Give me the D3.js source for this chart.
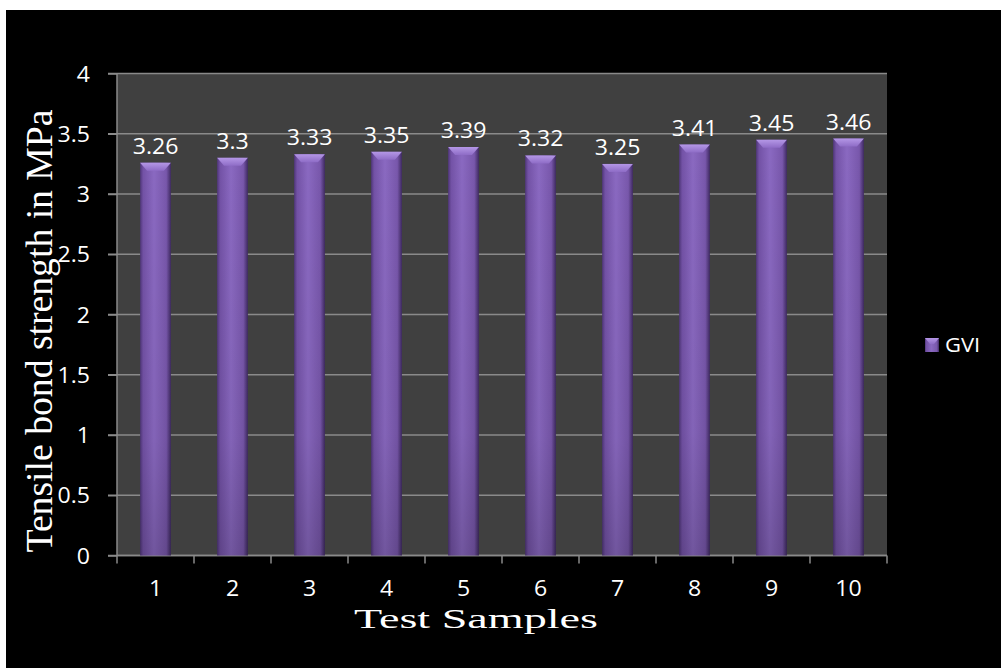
<!DOCTYPE html>
<html>
<head>
<meta charset="utf-8">
<script src="https://cdn.jsdelivr.net/npm/d3@7"></script>
<style>
  html, body { margin: 0; padding: 0; background: #fff; }
  svg { display: block; }
</style>
</head>
<body>
<div id="chart"></div>
<script>
// data
var samples = ["1", "2", "3", "4", "5", "6", "7", "8", "9", "10"];
var gviValues = [3.26, 3.3, 3.33, 3.35, 3.39, 3.32, 3.25, 3.41, 3.45, 3.46];
var yTicks = [0, 0.5, 1, 1.5, 2, 2.5, 3, 3.5, 4];
var seriesName = "GVI";

var W = 1001, H = 668;
var plot = {left: 117, right: 887, top: 73.5, bottom: 555.5};
var sans = "'Open Sans', Lato, sans-serif";
var stretch = 1.1; // the reference text looks a little wide

var svg = d3.select("#chart").append("svg")
  .attr("width", W).attr("height", H);

// black background with thin white border top/left
svg.append("rect").attr("x", 6).attr("y", 10)
  .attr("width", W - 6).attr("height", H - 10).attr("fill", "#000");

var defs = svg.append("defs");
var g1 = defs.append("linearGradient").attr("id", "barGrad")
  .attr("x1", "0%").attr("x2", "100%").attr("y1", "0%").attr("y2", "0%");
[["0%", "#4f3679"], ["10%", "#7352a6"], ["45%", "#8a69c1"], ["85%", "#7857ab"], ["100%", "#3f2a62"]]
  .forEach(function(s){ g1.append("stop").attr("offset", s[0]).attr("stop-color", s[1]); });

var g2 = defs.append("linearGradient").attr("id", "shadeGrad")
  .attr("x1", "0%").attr("x2", "0%").attr("y1", "0%").attr("y2", "100%");
g2.append("stop").attr("offset", "0%").attr("stop-color", "#000").attr("stop-opacity", 0);
g2.append("stop").attr("offset", "70%").attr("stop-color", "#000").attr("stop-opacity", 0.05);
g2.append("stop").attr("offset", "100%").attr("stop-color", "#000").attr("stop-opacity", 0.18);

var g3 = defs.append("linearGradient").attr("id", "capGrad")
  .attr("x1", "0%").attr("x2", "0%").attr("y1", "0%").attr("y2", "100%");
g3.append("stop").attr("offset", "0%").attr("stop-color", "#b497e6");
g3.append("stop").attr("offset", "100%").attr("stop-color", "#8e6cc6");

// scales
var x = d3.scaleBand().domain(samples)
  .range([plot.left, plot.right]).paddingInner(0.6).paddingOuter(0.3);
var xOuter = d3.scaleBand().domain(samples).range([plot.left, plot.right]);
var y = d3.scaleLinear().domain([0, 4]).range([plot.bottom, plot.top]);

var label = function(sel, px, py, anchor, size){
  sel.attr("transform", function(d, i){
      return "translate(" + px(d, i) + "," + py(d, i) + ") scale(" + stretch + ",1)";
    })
    .attr("text-anchor", anchor).attr("fill", "#fff")
    .style("font-family", sans).style("font-size", size + "px");
};

// plot area
svg.append("rect")
  .attr("x", plot.left).attr("y", plot.top)
  .attr("width", plot.right - plot.left).attr("height", plot.bottom - plot.top)
  .attr("fill", "#404040");

// grid lines
svg.append("g").selectAll("line").data(yTicks).join("line")
  .attr("x1", plot.left - 9).attr("x2", plot.right)
  .attr("y1", function(d){ return y(d); }).attr("y2", function(d){ return y(d); })
  .attr("stroke", "#8a8a8a").attr("stroke-width", 1.5);

// y axis
var yAxis = d3.axisLeft(y).tickValues(yTicks).tickSize(9).tickFormat("");
var yg = svg.append("g").attr("transform", "translate(" + plot.left + ",0)").call(yAxis);
yg.select(".domain").attr("stroke", "#8a8a8a").attr("stroke-width", 1.5)
  .attr("d", "M0," + plot.top + "V" + plot.bottom);
yg.selectAll(".tick line").attr("stroke", "#8a8a8a").attr("stroke-width", 1.5);
svg.append("g").selectAll("text").data(yTicks).join("text")
  .call(label, function(){ return 90; }, function(d){ return y(d) + 8; }, "end", 21)
  .text(function(d){ return String(d); });

// x axis with ticks at category boundaries
var boundaries = samples.map(function(s){ return xOuter(s); }).concat([plot.right]);
var xg = svg.append("g");
xg.append("line").attr("x1", plot.left).attr("x2", plot.right)
  .attr("y1", plot.bottom).attr("y2", plot.bottom)
  .attr("stroke", "#8a8a8a").attr("stroke-width", 1.5);
xg.selectAll("line.tk").data(boundaries).join("line").attr("class", "tk")
  .attr("x1", function(d){ return d; }).attr("x2", function(d){ return d; })
  .attr("y1", plot.bottom).attr("y2", plot.bottom + 8)
  .attr("stroke", "#8a8a8a").attr("stroke-width", 1.5);
xg.selectAll("text").data(samples).join("text")
  .call(label, function(d){ return xOuter(d) + xOuter.bandwidth() / 2; },
    function(){ return plot.bottom + 40.5; }, "middle", 21)
  .text(function(d){ return d; });

// bars
var bars = svg.append("g").selectAll("g").data(gviValues).join("g");
bars.append("rect")
  .attr("x", function(d, i){ return x(samples[i]); })
  .attr("y", function(d){ return y(d); })
  .attr("width", x.bandwidth())
  .attr("height", function(d){ return y(0) - y(d); })
  .attr("fill", "url(#barGrad)");
bars.append("rect")
  .attr("x", function(d, i){ return x(samples[i]); })
  .attr("y", function(d){ return y(d); })
  .attr("width", x.bandwidth())
  .attr("height", function(d){ return y(0) - y(d); })
  .attr("fill", "url(#shadeGrad)");
bars.append("path")
  .attr("d", function(d, i){
    var x0 = x(samples[i]), x1 = x0 + x.bandwidth(), t = y(d), b = 8;
    return "M" + x0 + "," + t + "L" + x1 + "," + t + "L" + (x1 - 7) + "," + (t + b) +
      "L" + (x0 + 7) + "," + (t + b) + "Z";
  })
  .attr("fill", "url(#capGrad)");

// value labels
svg.append("g").selectAll("text").data(gviValues).join("text")
  .call(label, function(d, i){ return x(samples[i]) + x.bandwidth() / 2; },
    function(d){ return y(d) - 9; }, "middle", 21)
  .text(function(d){ return String(d); });

// axis titles
svg.append("text")
  .attr("x", 476).attr("y", 628)
  .attr("text-anchor", "middle").attr("fill", "#fff")
  .attr("textLength", 244).attr("lengthAdjust", "spacingAndGlyphs")
  .style("font-family", "'Liberation Serif', 'Times New Roman', serif").style("font-size", "27px")
  .text("Test Samples");

svg.append("text")
  .attr("transform", "translate(52,331) rotate(-90)")
  .attr("text-anchor", "middle").attr("fill", "#fff")
  .attr("textLength", 443).attr("lengthAdjust", "spacingAndGlyphs")
  .style("font-family", "'Liberation Serif', 'Times New Roman', serif").style("font-size", "38px")
  .text("Tensile bond strength in MPa");

// legend
var lg = svg.append("g").attr("transform", "translate(925,338)");
lg.append("rect").attr("width", 14).attr("height", 14).attr("fill", "url(#barGrad)");
lg.append("path").attr("d", "M0,0L14,0L9,6L5,6Z").attr("fill", "url(#capGrad)");
lg.append("text").datum(seriesName)
  .call(label, function(){ return 20; }, function(){ return 14; }, "start", 20)
  .text(function(d){ return d; });
</script>
</body>
</html>
